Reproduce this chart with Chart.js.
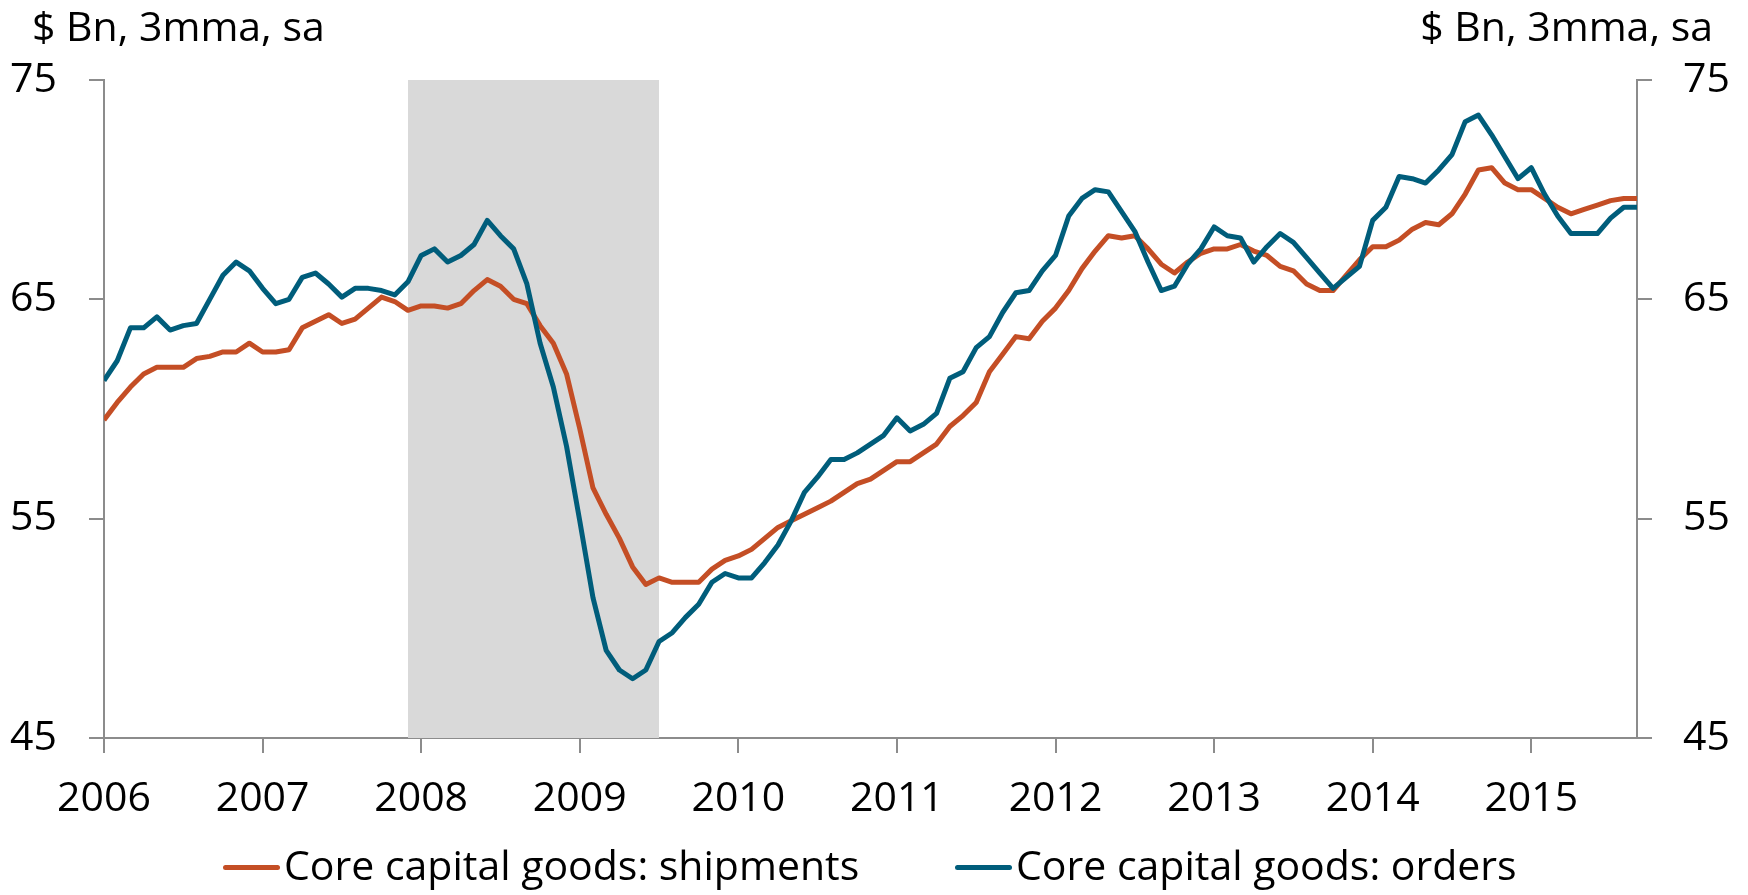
<!DOCTYPE html>
<html>
<head>
<meta charset="utf-8">
<title>Core capital goods</title>
<script src="https://cdn.jsdelivr.net/npm/chart.js@4.4.1/dist/chart.umd.min.js"></script>
<style>
  html, body { margin: 0; padding: 0; background: #fff; }
  .chart-wrap {
    position: relative;
    width: 1748px;
    height: 895px;
    font-family: "Open Sans", Lato, sans-serif;
    font-size: 41px;
    line-height: 41px;
    color: #000;
  }
  .unit-label { position: absolute; top: 5px; white-space: nowrap; }
  .unit-label.left { left: 32px; }
  .unit-label.right { right: 35px; }
  .legend-item {
    position: absolute;
    top: 844px;
    display: flex;
    align-items: center;
    white-space: nowrap;
  }
  .legend-line {
    display: inline-block;
    position: relative;
    top: 3px;
    width: 57px;
    height: 5px;
    border-radius: 3px;
    margin-right: 4px;
  }
</style>
</head>
<body>
<div class="chart-wrap">
  <canvas id="capex-chart" width="1748" height="895"></canvas>
  <div class="unit-label left">$ Bn, 3mma, sa</div>
  <div class="unit-label right">$ Bn, 3mma, sa</div>
  <div id="capex-legend"></div>
</div>
<script>
// Monthly, Jan 2006 .. Sep 2015 (index 0 = Jan 2006)
const years = ['2006', '2007', '2008', '2009', '2010', '2011', '2012', '2013', '2014', '2015'];
const yearTicks = [0, 12, 24, 36, 48, 60, 72, 84, 96, 108]; // month index of each January
const lastMonth = 116;
const recession = [23, 42]; // Dec 2007 .. Jun 2009

const shipments = [
  59.5, 60.3, 61.0, 61.6, 61.9, 61.9, 61.9, 62.3, 62.4, 62.6, 62.6, 63.0,
  62.6, 62.6, 62.7, 63.7, 64.0, 64.3, 63.9, 64.1, 64.6, 65.1, 64.9, 64.5,
  64.7, 64.7, 64.6, 64.8, 65.4, 65.9, 65.6, 65.0, 64.8, 63.8, 63.0, 61.6,
  59.1, 56.4, 55.2, 54.1, 52.8, 52.0, 52.3, 52.1, 52.1, 52.1, 52.7, 53.1,
  53.3, 53.6, 54.1, 54.6, 54.9, 55.2, 55.5, 55.8, 56.2, 56.6, 56.8, 57.2,
  57.6, 57.6, 58.0, 58.4, 59.2, 59.7, 60.3, 61.7, 62.5, 63.3, 63.2, 64.0,
  64.6, 65.4, 66.4, 67.2, 67.9, 67.8, 67.9, 67.3, 66.6, 66.2, 66.7, 67.1,
  67.3, 67.3, 67.5, 67.2, 67.0, 66.5, 66.3, 65.7, 65.4, 65.4, 66.1, 66.8,
  67.4, 67.4, 67.7, 68.2, 68.5, 68.4, 68.9, 69.8, 70.9, 71.0, 70.3, 70.0,
  70.0, 69.6, 69.2, 68.9, 69.1, 69.3, 69.5, 69.6, 69.6
];

const orders = [
  61.3, 62.2, 63.7, 63.7, 64.2, 63.6, 63.8, 63.9, 65.0, 66.1, 66.7, 66.3,
  65.5, 64.8, 65.0, 66.0, 66.2, 65.7, 65.1, 65.5, 65.5, 65.4, 65.2, 65.8,
  67.0, 67.3, 66.7, 67.0, 67.5, 68.6, 67.9, 67.3, 65.7, 63.0, 61.0, 58.3,
  54.9, 51.4, 49.0, 48.1, 47.7, 48.1, 49.4, 49.8, 50.5, 51.1, 52.1, 52.5,
  52.3, 52.3, 53.0, 53.8, 54.9, 56.2, 56.9, 57.7, 57.7, 58.0, 58.4, 58.8,
  59.6, 59.0, 59.3, 59.8, 61.4, 61.7, 62.8, 63.3, 64.4, 65.3, 65.4, 66.3,
  67.0, 68.8, 69.6, 70.0, 69.9, 69.0, 68.1, 66.7, 65.4, 65.6, 66.6, 67.3,
  68.3, 67.9, 67.8, 66.7, 67.4, 68.0, 67.6, 66.9, 66.2, 65.5, 66.0, 66.5,
  68.6, 69.2, 70.6, 70.5, 70.3, 70.9, 71.6, 73.1, 73.4, 72.5, 71.5, 70.5,
  71.0, 69.8, 68.8, 68.0, 68.0, 68.0, 68.7, 69.2, 69.2
];

const yMin = 45;
const yMax = 75;
const yStep = 10;

const SHIP_COLOR = '#c44e25';
const ORDER_COLOR = '#005d7b';
const AXIS_COLOR = '#8c8c8c';
const FONT = { family: '"Open Sans", Lato, sans-serif', size: 41 };

const toPoints = (values) => values.map((v, i) => ({ x: i, y: v }));

const axisGrid = {
  drawOnChartArea: false,
  drawTicks: true,
  tickLength: 15,
  color: AXIS_COLOR,
  lineWidth: 2
};
const axisBorder = { display: true, color: AXIS_COLOR, width: 2 };

const valueAxis = (position, width, padding) => ({
  type: 'linear',
  position: position,
  min: yMin,
  max: yMax,
  grid: axisGrid,
  border: axisBorder,
  ticks: { stepSize: yStep, color: '#000', font: FONT, padding: padding },
  afterFit: (scale) => { scale.width = width; }
});

const ctx = document.getElementById('capex-chart');

const chart = new Chart(ctx, {
  type: 'line',
  data: {
    datasets: [
      {
        label: 'Core capital goods: orders',
        data: toPoints(orders),
        borderColor: ORDER_COLOR,
        backgroundColor: ORDER_COLOR,
        borderWidth: 5,
        borderJoinStyle: 'round',
        pointRadius: 0,
        tension: 0,
        fill: false,
        order: 0,
        legendIndex: 1
      },
      {
        label: 'Core capital goods: shipments',
        data: toPoints(shipments),
        borderColor: SHIP_COLOR,
        backgroundColor: SHIP_COLOR,
        borderWidth: 5,
        borderJoinStyle: 'round',
        pointRadius: 0,
        tension: 0,
        fill: false,
        order: 1,
        legendIndex: 0
      },
      {
        label: 'Recession',
        data: recession.map((m) => ({ x: m, y: yMax })),
        borderColor: 'rgba(0,0,0,0)',
        backgroundColor: '#d9d9d9',
        borderWidth: 0,
        pointRadius: 0,
        fill: 'start',
        order: 2
      }
    ]
  },
  options: {
    responsive: false,
    animation: false,
    events: [],
    layout: { padding: { top: 80, bottom: 77, left: 0, right: 0 } },
    plugins: {
      legend: { display: false },
      tooltip: { enabled: false }
    },
    scales: {
      x: {
        type: 'linear',
        min: 0,
        max: lastMonth,
        grid: axisGrid,
        border: axisBorder,
        ticks: {
          color: '#000',
          font: FONT,
          padding: 22,
          maxRotation: 0,
          callback: (value, index) => years[index]
        },
        afterBuildTicks: (scale) => {
          scale.ticks = yearTicks.map((v) => ({ value: v }));
        },
        afterFit: (scale) => { scale.height = 80; }
      },
      y: valueAxis('left', 104, 32),
      y2: valueAxis('right', 111, 31)
    }
  }
});

// HTML legend, built from the two series
const legendLeft = [223, 955];
const legendEl = document.getElementById('capex-legend');
chart.data.datasets
  .filter((ds) => ds.legendIndex !== undefined)
  .sort((a, b) => a.legendIndex - b.legendIndex)
  .forEach((ds, i) => {
    const item = document.createElement('div');
    item.className = 'legend-item';
    item.style.left = legendLeft[i] + 'px';
    item.innerHTML = `<span class="legend-line" style="background:${ds.borderColor}"></span><span>${ds.label}</span>`;
    legendEl.appendChild(item);
  });
</script>
</body>
</html>
